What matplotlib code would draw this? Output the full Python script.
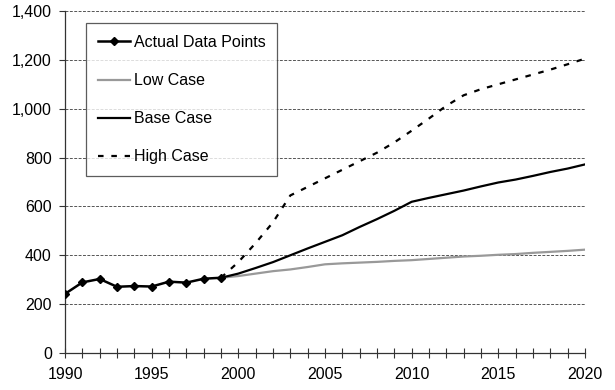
import numpy as np
import matplotlib.pyplot as plt
from matplotlib.ticker import MultipleLocator, FuncFormatter

# ---------------- DATA ----------------
actual_years = list(range(1990, 2000))
actual_vals = [242, 289, 303, 271, 274, 272, 292, 288, 304, 308]

proj_years = list(range(1999, 2021))
low_vals = [308, 315, 325, 335, 342, 352, 363, 367, 370, 373, 377,
            380, 385, 390, 395, 398, 402, 405, 410, 414, 418, 423]
base_vals = [308, 325, 348, 372, 400, 428, 455, 482, 516, 548, 582,
             619, 635, 650, 665, 682, 698, 710, 725, 741, 755, 772]
high_vals = [308, 372, 450, 535, 645, 680, 715, 750, 785, 820, 862,
             910, 960, 1012, 1055, 1080, 1100, 1120, 1140, 1160, 1182, 1205]

plt.rcParams['font.family'] = ['Liberation Sans', 'DejaVu Sans']
plt.rcParams['font.size'] = 11.5

# ---------------- PLOT ----------------
fig = plt.figure(figsize=(6.15, 3.9), dpi=100)
ax = fig.add_axes([0.1057, 0.0949, 0.8455, 0.8769])

ax.plot(actual_years, actual_vals, color='black', lw=1.8, marker='D',
        markersize=4.5, label='Actual Data Points', zorder=5)
ax.plot(proj_years, low_vals, color='#999999', lw=1.6, label='Low Case', zorder=3)
ax.plot(proj_years, base_vals, color='black', lw=1.6, label='Base Case', zorder=4)
ax.plot(proj_years, high_vals, color='black', lw=1.6, ls=(0, (2.5, 3.5)),
        label='High Case', zorder=4)

ax.set_xlim(1990, 2020)
ax.set_ylim(0, 1400)
ax.xaxis.set_major_locator(MultipleLocator(5))
ax.xaxis.set_minor_locator(MultipleLocator(1))
ax.yaxis.set_major_locator(MultipleLocator(200))
ax.yaxis.set_major_formatter(FuncFormatter(lambda v, p: f"{int(v):,}"))

ax.tick_params(axis='x', which='both', direction='inout', length=7.2,
               width=0.8, color='#333333', pad=6.5)
ax.tick_params(axis='y', direction='out', length=4.5, width=0.8,
               color='#333333', pad=5)

ax.grid(axis='y', color='#555555', ls=(0, (3, 1.5)), lw=0.7)
ax.set_axisbelow(True)
for s in ['top', 'right']:
    ax.spines[s].set_visible(False)
for s in ['left', 'bottom']:
    ax.spines[s].set_color('#333333')
    ax.spines[s].set_linewidth(0.9)

leg = ax.legend(loc='upper left', bbox_to_anchor=(0.04, 0.965),
                frameon=True, fancybox=False, edgecolor='#333333',
                labelspacing=1.45, handlelength=2.0, handletextpad=0.25,
                borderpad=0.75, borderaxespad=0)
leg.get_frame().set_linewidth(0.9)

fig.savefig('out.png', dpi=100)
